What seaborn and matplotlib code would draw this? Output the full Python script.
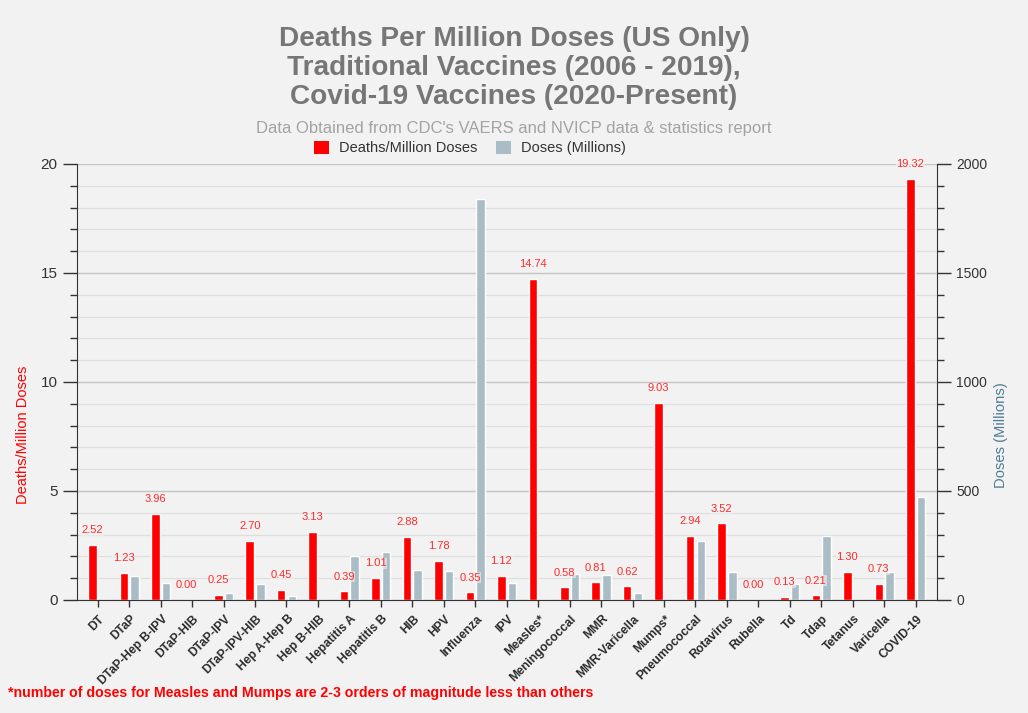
import numpy as np
import pandas as pd
import matplotlib
matplotlib.use("Agg")
import matplotlib.pyplot as plt
import matplotlib.transforms as mtransforms
import seaborn as sns
from matplotlib.patches import Patch
from matplotlib.ticker import MultipleLocator

categories = ["DT", "DTaP", "DTaP-Hep B-IPV", "DTaP-HIB", "DTaP-IPV", "DTaP-IPV-HIB",
              "Hep A-Hep B", "Hep B-HIB", "Hepatitis A", "Hepatitis B", "HIB", "HPV",
              "Influenza", "IPV", "Measles*", "Meningococcal", "MMR", "MMR-Varicella",
              "Mumps*", "Pneumococcal", "Rotavirus", "Rubella", "Td", "Tdap", "Tetanus",
              "Varicella", "COVID-19"]
deaths_per_million = [2.52, 1.23, 3.96, 0.00, 0.25, 2.70, 0.45, 3.13, 0.39, 1.01, 2.88, 1.78,
                      0.35, 1.12, 14.74, 0.58, 0.81, 0.62, 9.03, 2.94, 3.52, 0.00, 0.13, 0.21,
                      1.30, 0.73, 19.32]
doses_millions = [0, 110, 77, 0, 31, 73, 18, 0, 202, 219, 138, 133,
                  1840, 79, 0, 119, 116, 31, 0, 272, 127, 0, 73, 294,
                  0, 127, 471]
series_names = ["Deaths/Million Doses", "Doses (Millions)"]

RED = "#ff0000"
GRAY = "#aabcc6"
BG = "#f2f2f2"
TITLE_C = "#767676"

sns.set_style("ticks")
plt.rcParams['font.family'] = ['Liberation Sans', 'DejaVu Sans']

n = len(categories)
df = pd.DataFrame({
    "Vaccine": categories * 2,
    "Series": [series_names[0]] * n + [series_names[1]] * n,
    "Deaths": deaths_per_million + [np.nan] * n,
    "Doses": [np.nan] * n + doses_millions,
})

fig = plt.figure(figsize=(10.28, 7.13), dpi=100, facecolor=BG)
ax2 = fig.add_axes([0.0749, 0.1585, 0.8366, 0.6115])
ax = ax2.twinx()
ax.xaxis.set_visible(True)
ax.yaxis.tick_left()
ax.yaxis.set_label_position("left")
ax2.yaxis.tick_right()
ax2.yaxis.set_label_position("right")
ax2.set_facecolor(BG)
ax.patch.set_visible(False)

common = dict(data=df, x="Vaccine", hue="Series", hue_order=series_names, order=categories,
              palette=[RED, GRAY], dodge=True, width=0.68, gap=0.2, errorbar=None,
              legend=False, saturation=1)
sns.barplot(y="Doses", ax=ax2, **common)
sns.barplot(y="Deaths", ax=ax, **common)

ax.set_ylim(0, 20)
ax2.set_ylim(0, 2000)
ax.set_xlim(-0.66, n - 1 + 0.68)

ax.yaxis.set_major_locator(MultipleLocator(5))
ax.yaxis.set_minor_locator(MultipleLocator(1))
ax2.yaxis.set_major_locator(MultipleLocator(500))
ax2.yaxis.set_minor_locator(MultipleLocator(100))

ax2.set_axisbelow(True)
ax2.grid(which="major", axis="y", color="#c4c4c4", linewidth=1.0)
ax2.grid(which="minor", axis="y", color="#dedede", linewidth=0.9)
ax2.grid(which="major", axis="x", visible=False)

for a in (ax, ax2):
    a.spines["top"].set_visible(False)
ax.spines["right"].set_visible(False)
ax2.spines["left"].set_visible(False)
ax.spines["left"].set_color("#333333")
ax.spines["bottom"].set_color("#333333")
ax2.spines["right"].set_color("#333333")
ax2.spines["bottom"].set_visible(False)

ax.tick_params(axis="y", which="major", length=10, width=1, color="#333333",
               labelsize=11, labelcolor="#333333", pad=4)
ax.tick_params(axis="y", which="minor", length=5, width=1, color="#333333")
ax2.tick_params(axis="y", which="major", length=10, width=1, color="#333333",
                labelsize=10, labelcolor="#333333", pad=4)
ax2.tick_params(axis="y", which="minor", length=5, width=1, color="#333333")
ax.tick_params(axis="x", bottom=True, labelbottom=True, length=5, width=1,
               color="#333333", pad=3)
ax2.tick_params(axis="x", bottom=False, labelbottom=False)

ax.set_xticks(range(n))
ax.set_xticklabels(categories, rotation=45, ha="right", va="center", rotation_mode="anchor",
                   fontsize=8.7, fontweight="bold", color="#2a2a2a")
shift = mtransforms.ScaledTranslation(5 / 100, -6 / 100, fig.dpi_scale_trans)
for lbl in ax.get_xticklabels():
    lbl.set_transform(lbl.get_transform() + shift)
ax.set_xlabel("")
ax2.set_xlabel("")

ax.set_ylabel("Deaths/Million Doses", color=RED, fontsize=10.5)
ax.yaxis.set_label_coords(-0.055, 0.378)
ax2.set_ylabel("Doses (Millions)", color="#4e7c98", fontsize=10.6)
ax2.yaxis.set_label_coords(1.066, 0.378)

red_container = ax.containers[0]
texts = ax.bar_label(red_container, fmt="%.2f", padding=7, fontsize=8, color="#ff2a2a")
for t in texts:
    t.set_bbox(dict(facecolor=BG, edgecolor="none", alpha=0.6, pad=0.5))

fig.text(0.5, 1 - 39 / 713, "Deaths Per Million Doses (US Only)", ha="center", va="center",
         fontsize=20.2, fontweight="bold", color=TITLE_C)
fig.text(0.5, 1 - 68 / 713, "Traditional Vaccines (2006 - 2019),", ha="center", va="center",
         fontsize=20.2, fontweight="bold", color=TITLE_C)
fig.text(0.5, 1 - 97 / 713, "Covid-19 Vaccines (2020-Present)", ha="center", va="center",
         fontsize=20.2, fontweight="bold", color=TITLE_C)
fig.text(0.5, 1 - 128 / 713, "Data Obtained from CDC's VAERS and NVICP data & statistics report",
         ha="center", va="center", fontsize=12, color="#a3a3a3")

handles = [Patch(facecolor=RED, edgecolor="none"), Patch(facecolor=GRAY, edgecolor="none")]
fig.legend(handles, series_names, loc="center", bbox_to_anchor=(470 / 1028, 1 - 148 / 713), ncol=2,
           frameon=False, fontsize=10.5, handlelength=1.0, handleheight=1.0,
           columnspacing=1.3, handletextpad=0.7, labelcolor="#333333")

fig.text(8 / 1028, 1 - 693 / 713,
         "*number of doses for Measles and Mumps are 2-3 orders of magnitude less than others",
         ha="left", va="center", fontsize=10.2, fontweight="bold", color=RED)

fig.savefig("out.png", dpi=100, facecolor=BG)
